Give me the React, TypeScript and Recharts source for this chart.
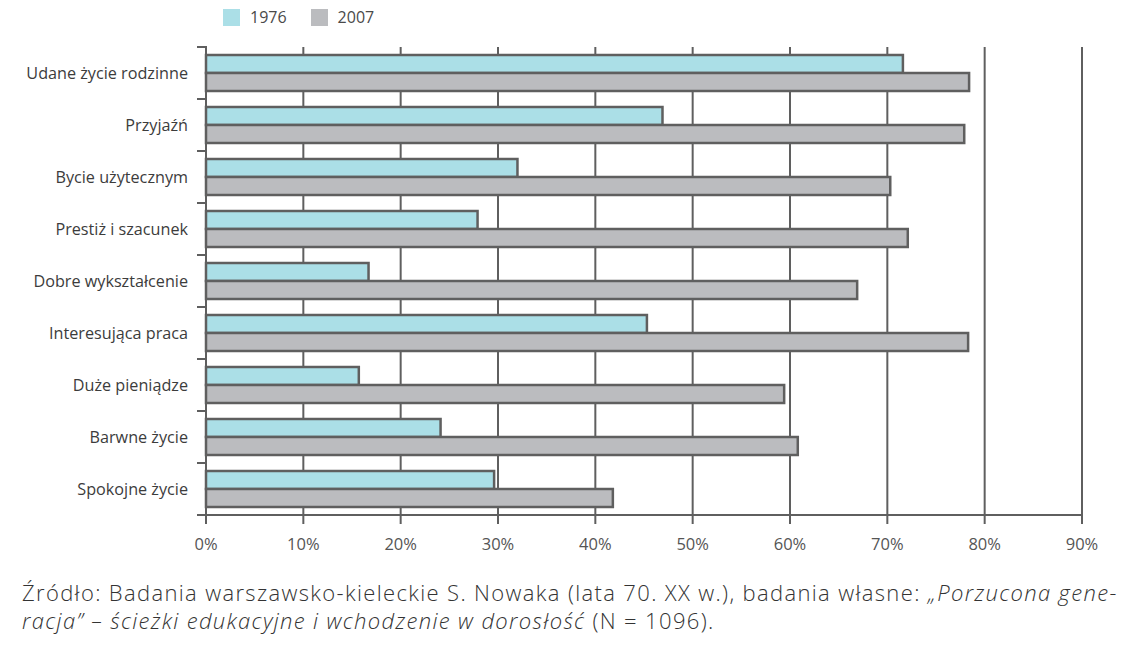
import React from 'react';
import { BarChart, Bar, XAxis, YAxis, CartesianGrid } from 'recharts';

const categories = [
  'Udane życie rodzinne',
  'Przyjaźń',
  'Bycie użytecznym',
  'Prestiż i szacunek',
  'Dobre wykształcenie',
  'Interesująca praca',
  'Duże pieniądze',
  'Barwne życie',
  'Spokojne życie',
];
const values1976 = [71.6, 46.9, 32.0, 27.9, 16.7, 45.3, 15.7, 24.1, 29.6];
const values2007 = [78.4, 77.9, 70.3, 72.1, 66.9, 78.3, 59.4, 60.8, 41.8];
const xTicks = [0, 10, 20, 30, 40, 50, 60, 70, 80, 90];
const legendItems = [
  { label: '1976', color: '#abdfe7' },
  { label: '2007', color: '#bbbcbf' },
];

const data = categories.map((name, i) => ({
  name,
  y1976: values1976[i],
  y2007: values2007[i],
}));

const LINE = '#5f5f5f';
const FONT = '"Open Sans", sans-serif';

const captionStyle: React.CSSProperties = {
  position: 'absolute',
  left: 22,
  fontFamily: FONT,
  fontWeight: 300,
  fontSize: 22,
  letterSpacing: 1.35,
  lineHeight: '26px',
  color: '#333',
  whiteSpace: 'nowrap',
};

// category label + short tick marks on the band boundaries (half a band above/below)
function CategoryTick({ x, y, payload }: any) {
  const half = payload.offset ?? 0;
  const isLast = payload.value === categories[categories.length - 1];
  return (
    <g>
      <text x={x} y={y} dy="0.35em" textAnchor="end" fontFamily={FONT} fontSize={16.2} fill="#3c3c3c">
        {payload.value}
      </text>
      <line x1={x + 9} x2={x + 19} y1={y - half} y2={y - half} stroke={LINE} strokeWidth={2} />
      {isLast && <line x1={x + 9} x2={x + 19} y1={y + half} y2={y + half} stroke={LINE} strokeWidth={2} />}
    </g>
  );
}

export default function App() {
  return (
    <div style={{ position: 'absolute', left: 0, top: 0, width: 1139, height: 648, background: '#fff' }}>
      <div style={{ position: 'absolute', left: 223, top: 8, display: 'flex', fontFamily: FONT, fontSize: 16, color: '#4a4a4a' }}>
        {legendItems.map((it) => (
          <div key={it.label} style={{ display: 'flex', alignItems: 'center', marginRight: 24, height: 18 }}>
            <span style={{ width: 17, height: 17, background: it.color, display: 'inline-block', marginRight: 10 }} />
            <span>{it.label}</span>
          </div>
        ))}
      </div>
      <BarChart
        width={1139}
        height={560}
        data={data}
        layout="vertical"
        margin={{ top: 47, right: 57, left: 0, bottom: 0 }}
        barGap={0}
        barSize={18}
      >
        <CartesianGrid horizontal={false} vertical stroke={LINE} strokeWidth={2} />
        <XAxis
          type="number"
          domain={[0, 90]}
          ticks={xTicks}
          tickFormatter={(v) => `${v}%`}
          height={45}
          tickSize={9}
          tickMargin={14}
          axisLine={{ stroke: LINE, strokeWidth: 2 }}
          tickLine={{ stroke: LINE, strokeWidth: 2 }}
          tick={{ fontFamily: FONT, fontSize: 16.5, fill: '#555' }}
        />
        <YAxis
          type="category"
          dataKey="name"
          width={206}
          axisLine={false}
          tickLine={false}
          tickSize={0}
          tickMargin={18}
          interval={0}
          tick={CategoryTick}
        />
        <Bar dataKey="y1976" name="1976" fill={legendItems[0].color} stroke={LINE} strokeWidth={2.5} isAnimationActive={false} />
        <Bar dataKey="y2007" name="2007" fill={legendItems[1].color} stroke={LINE} strokeWidth={2.5} isAnimationActive={false} />
      </BarChart>
      <div style={{ ...captionStyle, top: 579 }}>
        Źródło: Badania warszawsko-kieleckie S. Nowaka (lata 70. XX w.), badania własne: <i>„Porzucona gene-</i>
      </div>
      <div style={{ ...captionStyle, top: 607 }}>
        <i>racja” – ścieżki edukacyjne i wchodzenie w dorosłość</i> (N = 1096).
      </div>
    </div>
  );
}
